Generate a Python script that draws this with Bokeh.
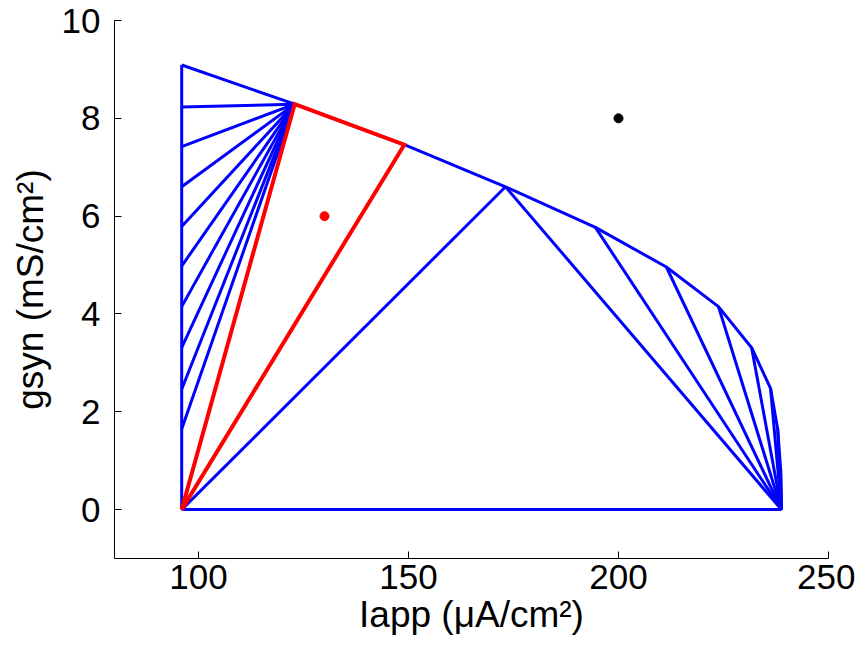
from bokeh.plotting import figure
from bokeh.models import Range1d, FixedTicker
from bokeh.embed import file_html
from bokeh.resources import INLINE

# Upper boundary vertices (Iapp, gsyn)
hull_x = [96.0, 122.9, 149.0, 173.1, 194.5, 211.4, 223.8, 231.7, 236.2, 237.9, 238.6, 238.8]
hull_y = [9.09, 8.29, 7.46, 6.60, 5.77, 4.96, 4.15, 3.31, 2.48, 1.65, 0.83, 0.0]

# Corner vertices
left_x = 96.0
right_x = 238.8
base_y = 0.0

# Left edge points joined to the second hull vertex
left_fan_y = [8.23, 7.42, 6.60, 5.79, 4.98, 4.15, 3.31, 2.46, 1.65]
left_fan_hub = 1          # index into hull
# Hull vertices joined to the bottom-right corner
right_fan_idx = [4, 5, 6, 7, 8, 9, 10]
# Hull vertex joined to both bottom corners
apex_idx = 3
# Red triangle: bottom-left corner with hull vertices 1 and 2
red_idx = [1, 2]

# Points
red_pt_x, red_pt_y = [130.0], [6.0]
black_pt_x, black_pt_y = [200.0], [8.0]

x_ticks = [100, 150, 200, 250]
y_ticks = [0, 2, 4, 6, 8, 10]

# ---- build segments
bx, by = [], []
bx.append([left_x, left_x]); by.append([base_y, hull_y[0]])
bx.append([left_x, right_x]); by.append([base_y, base_y])
bx.append(hull_x); by.append(hull_y)
hx, hy = hull_x[left_fan_hub], hull_y[left_fan_hub]
for yy in left_fan_y:
    bx.append([hx, left_x]); by.append([hy, yy])
ax_, ay_ = hull_x[apex_idx], hull_y[apex_idx]
bx.append([left_x, ax_]); by.append([base_y, ay_])
bx.append([right_x, ax_]); by.append([base_y, ay_])
for i in right_fan_idx:
    bx.append([right_x, hull_x[i]]); by.append([base_y, hull_y[i]])

rx = [left_x, hull_x[red_idx[0]], hull_x[red_idx[1]], left_x]
ry = [base_y, hull_y[red_idx[0]], hull_y[red_idx[1]], base_y]

p = figure(frame_width=714, frame_height=538, output_backend="svg", toolbar_location=None,
           x_range=Range1d(80, 250), y_range=Range1d(-1, 10),
           min_border_left=114, min_border_right=27, min_border_top=20, min_border_bottom=88)
p.outline_line_color = None
p.grid.visible = False
p.background_fill_color = "white"
p.border_fill_color = "white"

p.multi_line(bx, by, line_color="#0000ff", line_width=3.0)
p.line(rx, ry, line_color="#ff0000", line_width=4.0, line_join="miter")
p.scatter(red_pt_x, red_pt_y, size=9, color="#ff0000")
p.scatter(black_pt_x, black_pt_y, size=9, color="#000000")

p.xaxis.ticker = FixedTicker(ticks=x_ticks)
p.yaxis.ticker = FixedTicker(ticks=y_ticks)
for ax in (p.xaxis, p.yaxis):
    ax.major_tick_in = 7
    ax.major_tick_out = 0
    ax.minor_tick_line_color = None
    ax.axis_line_color = "black"
    ax.major_tick_line_color = "black"
    ax.major_label_text_font = "Liberation Sans"
    ax.major_label_text_font_size = "35px"
    ax.major_label_text_color = "black"
    ax.axis_label_text_font = "Liberation Sans"
    ax.axis_label_text_font_size = "37px"
    ax.axis_label_text_font_style = "normal"
    ax.axis_label_text_color = "black"
p.xaxis.major_label_standoff = 6
p.yaxis.major_label_standoff = 14
p.xaxis.axis_label = "Iapp (μA/cm²)"
p.yaxis.axis_label = "gsyn (mS/cm²)"
p.xaxis.axis_label_standoff = 2
p.yaxis.axis_label_standoff = 8

open("out.html", "w").write(file_html(p, INLINE))
